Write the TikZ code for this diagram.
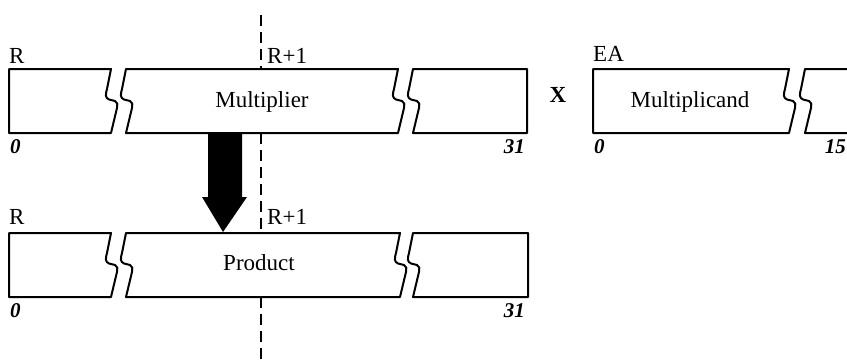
\documentclass[tikz,border=0pt]{standalone}
\usepackage{fontspec}
\setmainfont{Liberation Serif}
\begin{document}
\begin{tikzpicture}[x=1pt,y=-1pt,
  reg/.style={line width=2pt, line join=round},
  lbl/.style={inner sep=0pt, font=\fontsize{23}{27}\selectfont},
  num/.style={inner sep=0pt, font=\fontsize{21}{26}\selectfont\bfseries\itshape},
  dashline/.style={line width=2pt, dash pattern=on 11pt off 6pt},
  brkdown/.style 2 args={insert path={-- (#1-4,#2+20) .. controls (#1-5.5,#2+25) and (#1-6,#2+29) .. (#1-2,#2+30.5) -- (#1+4,#2+32) .. controls (#1+7,#2+33) and (#1+6.5,#2+36) .. (#1+6,#2+39) -- (#1,#2+64)}},
  brkup/.style 2 args={insert path={-- (#1+6,#2+39) .. controls (#1+6.5,#2+36) and (#1+7,#2+33) .. (#1+4,#2+32) -- (#1-2,#2+30.5) .. controls (#1-6,#2+29) and (#1-5.5,#2+25) .. (#1-4,#2+20) -- (#1,#2)}},
]
\clip (0,0) rectangle (847,364);
% top row: R / R+1
\draw[reg] (9,69) -- (111,69) [brkdown={111}{69}] -- (9,133) -- cycle;
\draw[reg] (126,69) -- (398,69) [brkdown={398}{69}] -- (126,133) [brkup={126}{69}] -- cycle;
\draw[reg] (413,69) -- (527,69) -- (527,133) -- (413,133) [brkup={413}{69}] -- cycle;
% multiplicand
\draw[reg] (593,69) -- (789,69) [brkdown={789}{69}] -- (593,133) -- cycle;
\draw[reg] (805,69) -- (880,69) -- (880,133) -- (805,133) [brkup={805}{69}] -- cycle;
% bottom row: product
\draw[reg] (9,233) -- (111,233) [brkdown={111}{233}] -- (9,297) -- cycle;
\draw[reg] (126,233) -- (400,233) [brkdown={400}{233}] -- (126,297) [brkup={126}{233}] -- cycle;
\draw[reg] (413,233) -- (528,233) -- (528,297) -- (413,297) [brkup={413}{233}] -- cycle;

% dashed divider
\coordinate (d0) at (261,15);
\coordinate (d1) at (261,69);
\coordinate (d2) at (261,133);
\coordinate (d3) at (261,233);
\coordinate (d4) at (261,297);
\coordinate (d5) at (261,364);
\draw[dashline] (d0) -- (d1);
\draw[dashline] (d2) -- (d3);
\draw[dashline] (d4) -- (d5);

% fat arrow
\fill (208,132) -- (242,132) -- (242,197) -- (247,197) -- (223,232) -- (202,197) -- (208,197) -- cycle;

% labels
\node[lbl, anchor=base west] (r1) at (9,63) {R};
\node[lbl, anchor=base west] (r1p) at (267,63) {R+1};
\node[lbl, anchor=base west] (ea) at (593,61) {EA};
\node[lbl, anchor=base west] (r2) at (9,224) {R};
\node[lbl, anchor=base west] (r2p) at (267,224) {R+1};
\node[lbl, anchor=base] (mult) at (262,107) {Multiplier};
\node[lbl, anchor=base] (mcand) at (690,107) {Multiplicand};
\node[lbl, anchor=base] (prod) at (259,270) {Product};
\node[lbl, anchor=base, font=\fontsize{23}{27}\selectfont\bfseries] (x) at (558,102) {X};
\node[num, anchor=base west] (n0a) at (10,153) {0};
\node[num, anchor=base east] (n31a) at (525,153) {31};
\node[num, anchor=base west] (n0b) at (594,153) {0};
\node[num, anchor=base east] (n15) at (846,153) {15};
\node[num, anchor=base west] (n0c) at (10,317) {0};
\node[num, anchor=base east] (n31b) at (525,317) {31};
\end{tikzpicture}
\end{document}
